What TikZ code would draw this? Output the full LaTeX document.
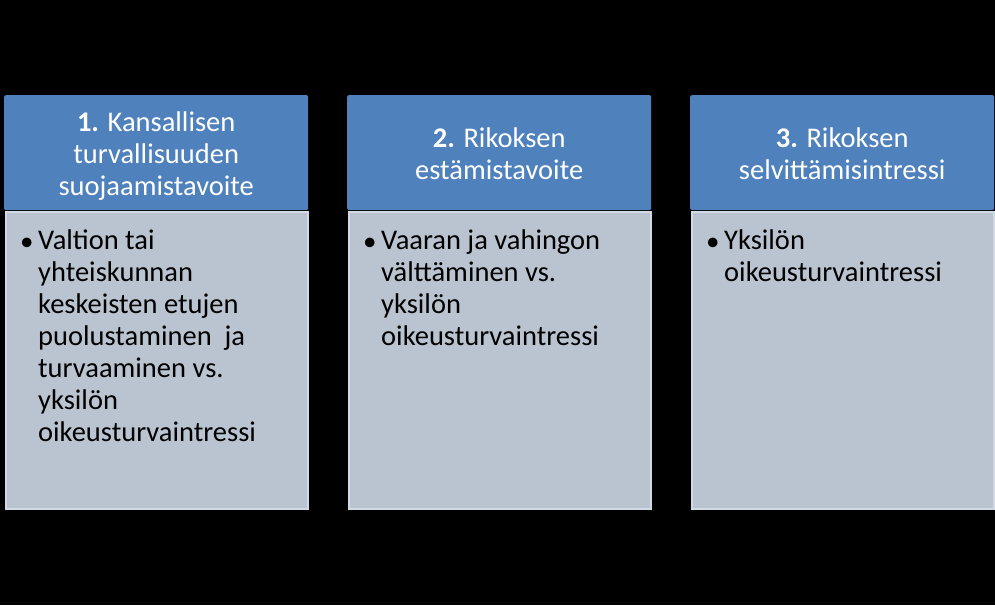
\documentclass[tikz,border=0pt]{standalone}
\usepackage{fontspec}
\setmainfont{Carlito}
\definecolor{hdr}{HTML}{4F81BD}
\definecolor{bodyfill}{HTML}{BAC3D0}
\definecolor{bodyline}{HTML}{D2D9E4}
\begin{document}
\begin{tikzpicture}[x=1pt,y=-1pt,
  hdrbox/.style={fill=hdr, draw=none, rounded corners=1.5pt, minimum width=304pt, minimum height=115pt, anchor=north west, inner sep=0pt},
  bodybox/.style={fill=bodyfill, draw=bodyline, line width=2pt, minimum width=302pt, minimum height=297pt, anchor=north west, inner sep=0pt},
  htext/.style={text=white, font=\fontsize{28.5}{32}\selectfont, align=center, inner sep=0pt},
  btext/.style={font=\fontsize{28.5}{32}\selectfont, align=left, anchor=north west, inner sep=0pt, text=black},
  bullet/.style={font=\fontsize{27}{32}\selectfont, anchor=base west, inner sep=0pt, text=black}]
\useasboundingbox[fill=black] (0,0) rectangle (995,605);

% column 1
\node[hdrbox] (h1) at (4,95) {};
\node[bodybox] (b1) at (5,211) {};
\node[htext] (t1) at ([yshift=-3pt]h1.center) {\textbf{1.} Kansallisen\\turvallisuuden\\suojaamistavoite};
\node[bullet] (u1) at (20,250) {•};
\node[btext] (c1) at (38,230) {Valtion tai\\yhteiskunnan\\keskeisten etujen\\puolustaminen\ \ ja\\turvaaminen vs.\\yksilön\\oikeusturvaintressi};

% column 2
\node[hdrbox] (h2) at (347,95) {};
\node[bodybox] (b2) at (348,211) {};
\node[htext] (t2) at ([yshift=-1pt]h2.center) {\textbf{2.} Rikoksen\\estämistavoite};
\node[bullet] (u2) at (363,250) {•};
\node[btext] (c2) at (381,230) {Vaaran ja vahingon\\välttäminen vs.\\yksilön\\oikeusturvaintressi};

% column 3
\node[hdrbox] (h3) at (690,95) {};
\node[bodybox] (b3) at (691,211) {};
\node[htext] (t3) at ([yshift=-1pt]h3.center) {\textbf{3.} Rikoksen\\selvittämisintressi};
\node[bullet] (u3) at (706,250) {•};
\node[btext] (c3) at (724,230) {Yksilön\\oikeusturvaintressi};
\end{tikzpicture}
\end{document}
